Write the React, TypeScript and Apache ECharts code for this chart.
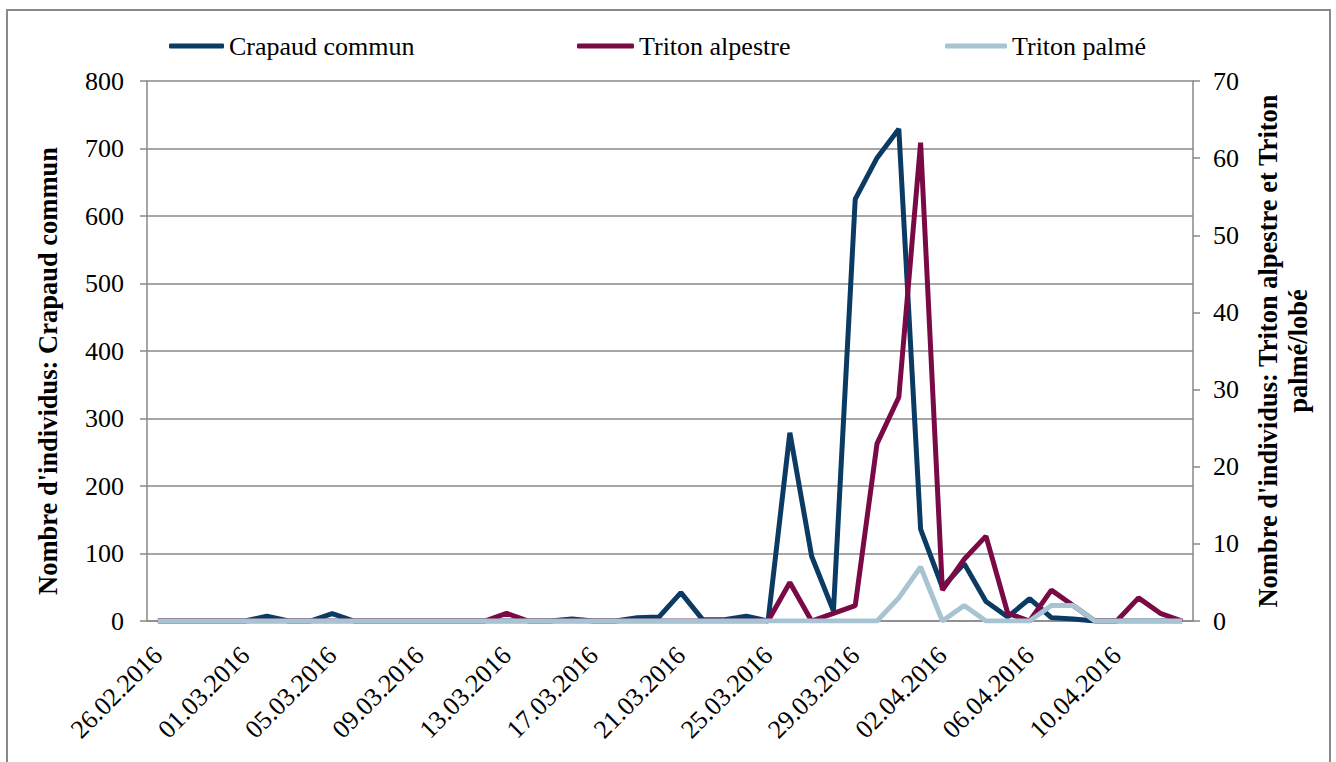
import React, { useEffect, useRef } from "react";
import * as echarts from "echarts";

const dates: string[] = [
  "26.02.2016", "27.02.2016", "28.02.2016", "29.02.2016",
  "01.03.2016", "02.03.2016", "03.03.2016", "04.03.2016", "05.03.2016", "06.03.2016",
  "07.03.2016", "08.03.2016", "09.03.2016", "10.03.2016", "11.03.2016", "12.03.2016",
  "13.03.2016", "14.03.2016", "15.03.2016", "16.03.2016", "17.03.2016", "18.03.2016",
  "19.03.2016", "20.03.2016", "21.03.2016", "22.03.2016", "23.03.2016", "24.03.2016",
  "25.03.2016", "26.03.2016", "27.03.2016", "28.03.2016", "29.03.2016", "30.03.2016",
  "31.03.2016", "01.04.2016", "02.04.2016", "03.04.2016", "04.04.2016", "05.04.2016",
  "06.04.2016", "07.04.2016", "08.04.2016", "09.04.2016", "10.04.2016", "11.04.2016",
  "12.04.2016", "13.04.2016",
];

const crapaudCommun: number[] = [
  0, 0, 0, 0, 0, 7, 0, 0, 11, 0,
  0, 0, 0, 0, 0, 0, 0, 0, 0, 3,
  0, 0, 5, 6, 42, 2, 2, 7, 0, 279,
  96, 15, 625, 686, 729, 136, 50, 85, 29, 6,
  33, 5, 3, 0, 0, 0, 0, 0,
];

const tritonAlpestre: number[] = [
  0, 0, 0, 0, 0, 0, 0, 0, 0, 0,
  0, 0, 0, 0, 0, 0, 1, 0, 0, 0,
  0, 0, 0, 0, 0, 0, 0, 0, 0, 5,
  0, 1, 2, 23, 29, 62, 4, 8, 11, 1,
  0, 4, 2, 0, 0, 3, 1, 0,
];

const tritonPalme: number[] = [
  0, 0, 0, 0, 0, 0, 0, 0, 0, 0,
  0, 0, 0, 0, 0, 0, 0, 0, 0, 0,
  0, 0, 0, 0, 0, 0, 0, 0, 0, 0,
  0, 0, 0, 0, 3, 7, 0, 2, 0, 0,
  0, 2, 2, 0, 0, 0, 0, 0,
];

const seriesNames = ["Crapaud commun", "Triton alpestre", "Triton palmé"];
const leftAxisName = "Nombre d'individus: Crapaud commun";
const rightAxisName = "Nombre d'individus: Triton alpestre et Triton\npalmé/lobé";

const FONT = "Liberation Serif";
const GRAY = "#898989";
const COLORS = ["#0b3a62", "#7a0a45", "#a8c3d1"];

export default function App() {
  const ref = useRef<HTMLDivElement>(null);

  useEffect(() => {
    if (!ref.current) return;
    const chart = echarts.init(ref.current, undefined, { renderer: "svg" });

    const legendBase = (name: string, left: number, itemWidth: number) => ({
      data: [name],
      left,
      top: 33,
      padding: 0,
      icon: "roundRect",
      itemWidth,
      itemHeight: 5,
      itemGap: 0,
      selectedMode: false,
      textStyle: { fontFamily: FONT, fontSize: 26, color: "#000" },
    });

    chart.setOption({
      animation: false,
      backgroundColor: "#fff",
      color: COLORS,
      textStyle: { fontFamily: FONT },
      graphic: [
        {
          type: "rect",
          shape: { x: 7, y: 10, width: 1323, height: 800 },
          style: { fill: "none", stroke: GRAY, lineWidth: 2 },
          silent: true,
        },
      ],
      legend: [
        legendBase(seriesNames[0], 169, 55),
        legendBase(seriesNames[1], 577, 57),
        legendBase(seriesNames[2], 945, 62),
      ],
      grid: { left: 147, right: 143, top: 81, bottom: 141, containLabel: false },
      xAxis: {
        type: "category",
        data: dates,
        boundaryGap: true,
        axisLine: { lineStyle: { color: GRAY, width: 1.5 } },
        axisTick: { interval: 3, alignWithLabel: false, length: 7, lineStyle: { color: GRAY, width: 1.5 } },
        axisLabel: {
          interval: 3,
          rotate: 45,
          margin: 30,
          fontFamily: FONT,
          fontSize: 26,
          color: "#000",
        },
        splitLine: { show: false },
      },
      yAxis: [
        {
          type: "value",
          min: 0,
          max: 800,
          interval: 100,
          name: leftAxisName,
          nameLocation: "middle",
          nameRotate: 90,
          nameGap: 86,
          nameTextStyle: {
            fontFamily: FONT,
            fontSize: 26.5,
            fontWeight: "bold",
            color: "#000",
            padding: [0, 40, 0, 0],
          },
          axisLine: { show: true, lineStyle: { color: GRAY, width: 1.5 } },
          axisTick: { show: true, length: 7, lineStyle: { color: GRAY, width: 1.5 } },
          axisLabel: { margin: 23, fontFamily: FONT, fontSize: 26, color: "#000" },
          splitLine: { show: true, lineStyle: { color: GRAY, width: 1.5 } },
        },
        {
          type: "value",
          min: 0,
          max: 70,
          interval: 10,
          position: "right",
          name: rightAxisName,
          nameLocation: "middle",
          nameRotate: 90,
          nameGap: 60,
          nameTextStyle: {
            fontFamily: FONT,
            fontSize: 26.5,
            fontWeight: "bold",
            color: "#000",
            lineHeight: 30,
            align: "center",
          },
          axisLine: { show: true, lineStyle: { color: GRAY, width: 1.5 } },
          axisTick: { show: true, length: 7, lineStyle: { color: GRAY, width: 1.5 } },
          axisLabel: { margin: 20, fontFamily: FONT, fontSize: 26, color: "#000" },
          splitLine: { show: false },
        },
      ],
      series: [
        {
          name: seriesNames[0],
          type: "line",
          yAxisIndex: 0,
          data: crapaudCommun,
          symbol: "none",
          lineStyle: { width: 5, color: COLORS[0] },
          itemStyle: { color: COLORS[0] },
        },
        {
          name: seriesNames[1],
          type: "line",
          yAxisIndex: 1,
          data: tritonAlpestre,
          symbol: "none",
          lineStyle: { width: 5, color: COLORS[1] },
          itemStyle: { color: COLORS[1] },
        },
        {
          name: seriesNames[2],
          type: "line",
          yAxisIndex: 1,
          data: tritonPalme,
          symbol: "none",
          lineStyle: { width: 5, color: COLORS[2] },
          itemStyle: { color: COLORS[2] },
        },
      ],
    });

    return () => chart.dispose();
  }, []);

  return (
    <div
      ref={ref}
      style={{ position: "fixed", left: 0, top: 0, width: 1336, height: 762, background: "#fff" }}
    />
  );
}
